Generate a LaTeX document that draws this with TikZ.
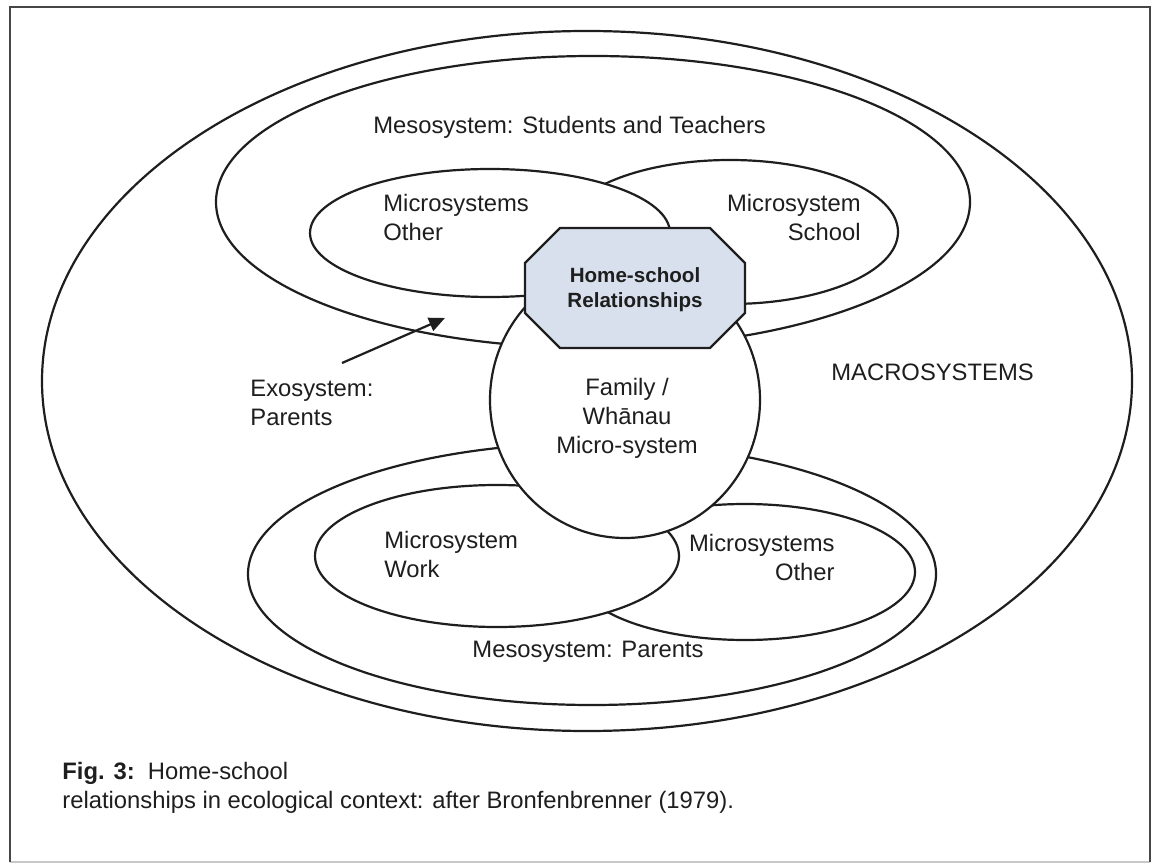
\documentclass[tikz,border=0pt]{standalone}
\usepackage{fontspec}
\setmainfont{Liberation Sans}
\usetikzlibrary{arrows.meta}
\definecolor{ink}{RGB}{30,30,30}
\definecolor{framegray}{RGB}{70,70,70}
\definecolor{framelight}{RGB}{200,200,200}
\definecolor{octfill}{RGB}{216,224,237}
\begin{document}
\begin{tikzpicture}[x=0.5pt,y=-0.5pt,
  ring/.style={draw=ink, line width=1.1pt, fill=white},
  lbl/.style={inner sep=0pt, text=ink, font=\fontsize{11.9}{14.5}\selectfont},
  boldlbl/.style={inner sep=0pt, text=ink, align=center, font=\bfseries\fontsize{10.3}{12.5}\selectfont},
  pointer/.style={draw=ink, line width=1.1pt, -{Triangle[length=8pt,width=7pt]}}]
\useasboundingbox (0,0) rectangle (1154,865);
% outer frame: dark on three sides, faint at the foot
\draw[framelight, line width=1pt] (10,862) -- (1150,862);
\draw[framegray, line width=1.4pt] (10,862) -- (10,7) -- (1150,7) -- (1150,862);
% macrosystem
\draw[ring] (587,381) ellipse [x radius=272.5pt, y radius=175pt];
% mesosystems
\draw[ring] (593,202) ellipse [x radius=188.5pt, y radius=73pt];
\draw[ring] (592,574) ellipse [x radius=172pt, y radius=65.5pt];
% upper microsystems
\draw[ring] (730,232) ellipse [x radius=84pt, y radius=36pt];
\draw[ring] (490,233) ellipse [x radius=90pt, y radius=32pt];
% lower microsystems
\draw[ring] (745,572) ellipse [x radius=85pt, y radius=34pt];
\draw[ring] (497,556) ellipse [x radius=91pt, y radius=35.5pt];
% family / whanau
\draw[ring] (625,400) ellipse [x radius=67.5pt, y radius=69pt];
% home-school octagon
\draw[ring, fill=octfill] (560,228) -- (710,228) -- (745,263) -- (745,313)
  -- (710,348) -- (560,348) -- (525,313) -- (525,263) -- cycle;

% labels
\node[lbl, anchor=west] (mesost) at (373,127) {Mesosystem: Students and Teachers};
\node[lbl, anchor=west, align=left] (microother) at (383,217) {Microsystems\\Other};
\node[lbl, anchor=east, align=right] (microschool) at (861,217) {Microsystem\\School};
\node[boldlbl] (hsr) at (635,290) {Home-school\\Relationships};
\node[lbl, align=center] (family) at (627,418) {Family /\\Whānau\\Micro-system};
\node[lbl, anchor=west] (macro) at (831,372) {MACROSYSTEMS};
\node[lbl, anchor=west, align=left] (exo) at (250,403) {Exosystem:\\Parents};
\node[lbl, anchor=west, align=left] (microwork) at (384,554) {Microsystem\\Work};
\node[lbl, anchor=east, align=right] (microother2) at (835,557) {Microsystems\\Other};
\node[lbl] (mesop) at (588,652) {Mesosystem: Parents};
\node[lbl, anchor=west, align=left] (caption) at (62,788)
  {\textbf{Fig. 3:}\ \ Home-school\\relationships in ecological context: after Bronfenbrenner (1979).};

% exosystem pointer
\coordinate (exotail) at (342,363);
\coordinate (exotip) at (445,318);
\draw[pointer] (exotail) -- (exotip);
\end{tikzpicture}
\end{document}
